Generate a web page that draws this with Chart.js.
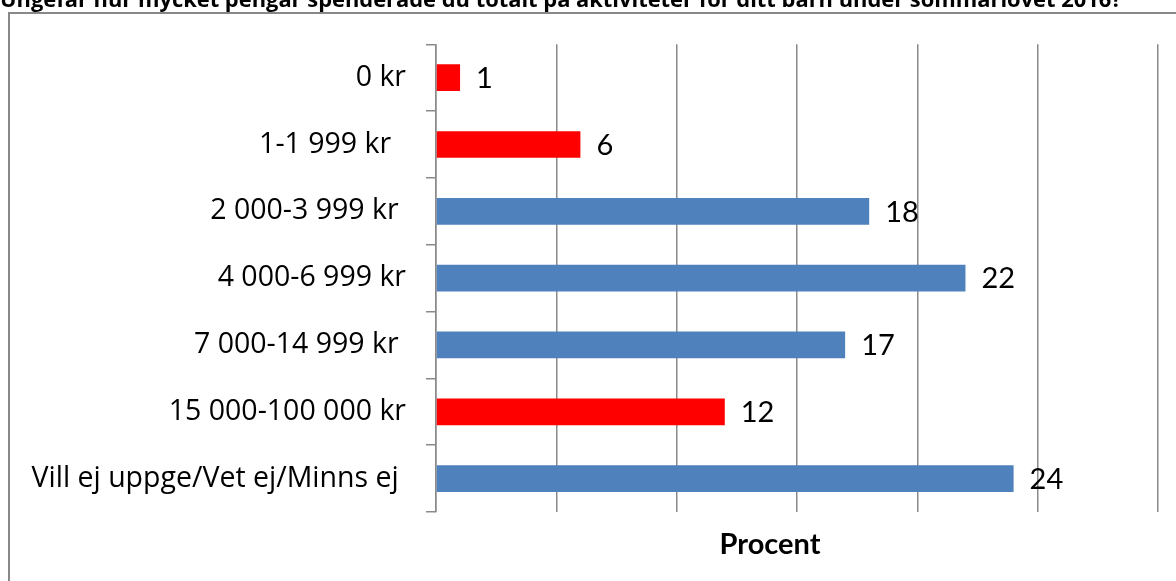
<!DOCTYPE html>
<html>
<head>
<meta charset="utf-8">
<script src="https://cdn.jsdelivr.net/npm/chart.js@4/dist/chart.umd.min.js"></script>
<style>
  html, body { margin: 0; padding: 0; background: #ffffff; }
  #wrap { position: relative; width: 1176px; height: 581px; overflow: hidden; background: #ffffff; }
  #frame { position: absolute; left: 8px; top: 12px; width: 1200px; height: 620px; border: 2px solid #888888; box-sizing: border-box; }
  #c { position: absolute; left: 0; top: -12px; }
</style>
</head>
<body>
<div id="wrap">
  <div id="frame"></div>
  <canvas id="c" width="1176" height="593"></canvas>
</div>
<script>
// ---- data ----
const chartTitle = "Ungefär hur mycket pengar spenderade du totalt på aktiviteter för ditt barn under sommarlovet 2016?";
const categories = [
  "0 kr",
  "1-1 999 kr  ",
  "2 000-3 999 kr ",
  "4 000-6 999 kr",
  "7 000-14 999 kr ",
  "15 000-100 000 kr",
  "Vill ej uppge/Vet ej/Minns ej "
];
const percentValues = [1, 6, 18, 22, 17, 12, 24];
const axisTitle = "Procent";
const axisMin = 0;
const axisMax = 30;
const axisStep = 5;

// ---- styles ----
const RED = "#FF0000";
const BLUE = "#4F81BD";
const barColors = [RED, RED, BLUE, BLUE, BLUE, RED, BLUE];
const GRID = "#8a8a8a";
const FONT = "'Open Sans', Lato, sans-serif";
const NUMFONT = "Lato, 'Open Sans', sans-serif";

const valueLabels = {
  id: "valueLabels",
  afterDatasetsDraw(chart) {
    const ctx = chart.ctx;
    const meta = chart.getDatasetMeta(0);
    ctx.save();
    ctx.font = "29px " + NUMFONT;
    ctx.fillStyle = "#000000";
    ctx.textAlign = "left";
    ctx.textBaseline = "middle";
    meta.data.forEach((bar, i) => {
      ctx.fillText(String(percentValues[i]), bar.x + 16, bar.y + 1);
    });
    ctx.restore();
  }
};

const axisTitlePlugin = {
  id: "axisTitlePlugin",
  afterDraw(chart) {
    const ctx = chart.ctx;
    const a = chart.chartArea;
    ctx.save();
    ctx.font = "bold 29px " + NUMFONT;
    ctx.fillStyle = "#000000";
    ctx.textAlign = "center";
    ctx.textBaseline = "middle";
    ctx.fillText(axisTitle, (a.left + a.right) / 2 - 27, a.bottom + 33);
    ctx.restore();
  }
};

new Chart(document.getElementById("c"), {
  type: "bar",
  data: {
    labels: categories,
    datasets: [{
      data: percentValues,
      backgroundColor: barColors,
      borderWidth: 0,
      categoryPercentage: 1.0,
      barPercentage: 0.4
    }]
  },
  options: {
    indexAxis: "y",
    responsive: false,
    animation: false,
    devicePixelRatio: 1,
    layout: { padding: { left: 0, right: 18, top: 0, bottom: 69 } },
    plugins: {
      legend: { display: false },
      tooltip: { enabled: false },
      title: {
        display: true,
        text: chartTitle,
        align: "start",
        color: "#000000",
        font: { family: FONT, size: 21.9, weight: "bold", lineHeight: 1.2 },
        padding: { top: 0, bottom: 30 }
      }
    },
    scales: {
      x: {
        min: axisMin,
        max: axisMax,
        ticks: { display: false, stepSize: axisStep },
        grid: { color: GRID, lineWidth: 1.5, drawTicks: false },
        border: { display: false }
      },
      y: {
        afterFit(scale) { scale.width = 436; },
        ticks: {
          color: "#000000",
          font: { family: FONT, size: 28.5 },
          padding: 20
        },
        grid: { drawOnChartArea: false, drawTicks: true, tickLength: 10, color: GRID, lineWidth: 1.5, offset: true },
        border: { display: true, color: GRID, width: 1.5 }
      }
    }
  },
  plugins: [valueLabels, axisTitlePlugin]
});
</script>
</body>
</html>
